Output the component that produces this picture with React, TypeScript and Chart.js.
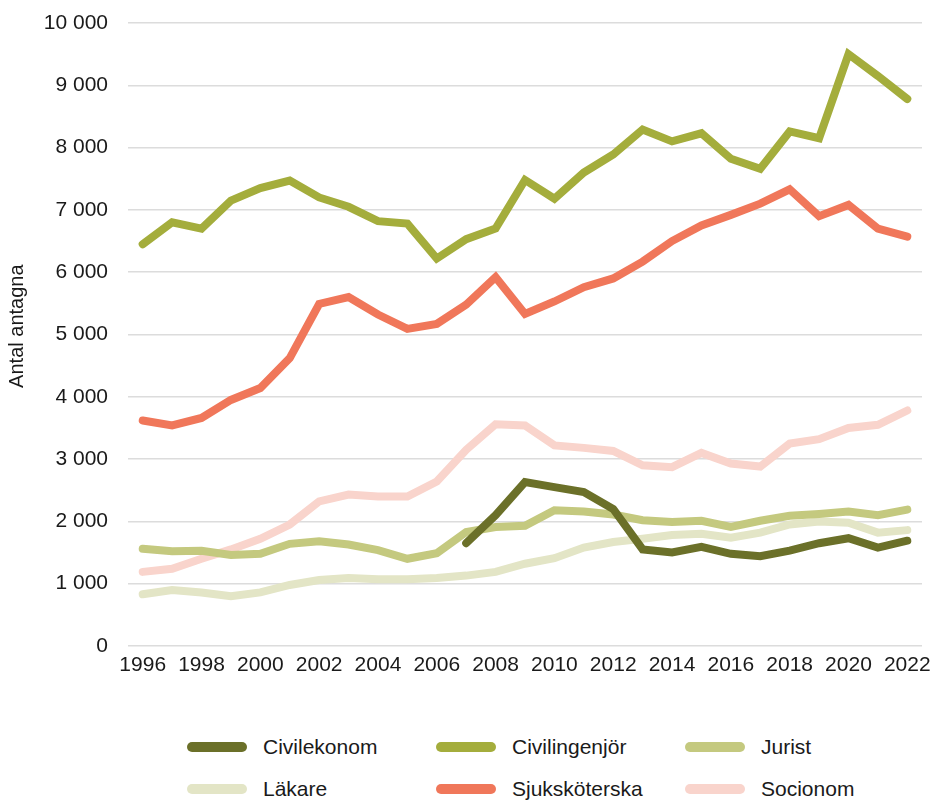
import React, { useEffect, useRef } from "react";
import { Chart, registerables } from "chart.js";

Chart.register(...registerables);

const years = [
  "1996", "1997", "1998", "1999", "2000", "2001", "2002", "2003", "2004", "2005",
  "2006", "2007", "2008", "2009", "2010", "2011", "2012", "2013", "2014", "2015",
  "2016", "2017", "2018", "2019", "2020", "2021", "2022",
];

const civilekonom = [
  null, null, null, null, null, null, null, null, null, null,
  null, 1650, 2100, 2630, 2550, 2470, 2200, 1550, 1500, 1590,
  1480, 1440, 1530, 1650, 1730, 1580, 1690,
];
const civilingenjor = [
  6450, 6800, 6700, 7150, 7350, 7470, 7200, 7050, 6820, 6780,
  6220, 6530, 6700, 7480, 7180, 7600, 7890, 8290, 8100, 8230,
  7820, 7660, 8260, 8150, 9500, 9150, 8780,
];
const jurist = [
  1560, 1520, 1530, 1460, 1480, 1640, 1680, 1630, 1540, 1400,
  1490, 1830, 1910, 1930, 2180, 2160, 2110, 2020, 1990, 2010,
  1910, 2010, 2090, 2120, 2160, 2100, 2190,
];
const lakare = [
  830, 900, 860, 800, 860, 980, 1060, 1090, 1070, 1070,
  1090, 1130, 1190, 1320, 1410, 1580, 1670, 1720, 1780, 1800,
  1740, 1820, 1950, 2000, 1980, 1820, 1860,
];
const sjukskoterska = [
  3620, 3540, 3660, 3950, 4140, 4620, 5490, 5600, 5320, 5090,
  5170, 5480, 5920, 5330, 5530, 5760, 5900, 6170, 6500, 6750,
  6920, 7100, 7330, 6900, 7080, 6700, 6570,
];
const socionom = [
  1190, 1240, 1400, 1550, 1720, 1950, 2320, 2430, 2400, 2400,
  2640, 3150, 3560, 3540, 3220, 3180, 3130, 2900, 2870, 3100,
  2930, 2880, 3250, 3320, 3500, 3550, 3780,
];

const seriesNames = ["Civilekonom", "Civilingenjör", "Jurist", "Läkare", "Sjuksköterska", "Socionom"];
const seriesColors = ["#6b7029", "#a4ad3c", "#c4c97f", "#e3e5c6", "#f0775a", "#f9d4cc"];
const seriesData = [civilekonom, civilingenjor, jurist, lakare, sjukskoterska, socionom];

const FONT = "'Liberation Sans', Arial, Helvetica, sans-serif";

function fmt(v: number): string {
  return String(v).replace(/\B(?=(\d{3})+(?!\d))/g, " ");
}

export default function App() {
  const ref = useRef<HTMLCanvasElement | null>(null);

  useEffect(() => {
    if (!ref.current) return;
    const chart = new Chart(ref.current, {
      type: "line",
      data: {
        labels: years,
        datasets: seriesNames.map((name, i) => ({
          label: name,
          data: seriesData[i],
          borderColor: seriesColors[i],
          backgroundColor: seriesColors[i],
          borderWidth: 8,
          borderCapStyle: "round" as const,
          borderJoinStyle: "miter" as const,
          pointRadius: 0,
          pointHoverRadius: 0,
          tension: 0,
          spanGaps: false,
        })),
      },
      options: {
        animation: false,
        responsive: false,
        maintainAspectRatio: false,
        layout: { padding: { top: 23, right: 10, left: 0, bottom: 0 } },
        plugins: {
          legend: { display: false },
          tooltip: { enabled: false },
        },
        scales: {
          x: {
            type: "category",
            offset: true,
            grid: { display: false, drawTicks: false },
            border: { display: false },
            afterFit: (s: any) => {
              s.height = 54;
              s.paddingLeft = 0;
              s.paddingRight = 0;
            },
            ticks: {
              autoSkip: false,
              maxRotation: 0,
              minRotation: 0,
              padding: 7,
              color: "#1a1a1a",
              font: { family: FONT, size: 21 },
              callback: (_v: any, idx: number) => (idx % 2 === 0 ? years[idx] : ""),
            },
          },
          y: {
            min: 0,
            max: 10000,
            afterFit: (s: any) => {
              s.width = 128;
              s.paddingTop = 0;
              s.paddingBottom = 0;
            },
            grid: { color: "#dcdcdc", lineWidth: 1.5, drawTicks: false },
            border: { display: false },
            ticks: {
              stepSize: 1000,
              padding: 20,
              color: "#1a1a1a",
              font: { family: FONT, size: 21 },
              callback: (v: any) => fmt(Number(v)),
            },
            title: {
              display: true,
              text: "   Antal antagna",
              color: "#1a1a1a",
              font: { family: FONT, size: 20 },
              padding: { top: 5, bottom: 0 },
            },
          },
        },
      },
    });
    return () => chart.destroy();
  }, []);

  const colX = [187, 436, 685];
  const rowY = [747, 789];

  return (
    <div style={{ position: "absolute", left: 0, top: 0, width: 932, height: 801, background: "#fff" }}>
      <canvas ref={ref} width={932} height={700} style={{ position: "absolute", left: 0, top: 0, width: 932, height: 700 }} />
      {seriesNames.map((name, i) => {
        const x = colX[i % 3];
        const y = rowY[Math.floor(i / 3)];
        return (
          <div key={name} style={{ position: "absolute", left: x, top: y - 13, height: 26, display: "flex", alignItems: "center" }}>
            <span style={{ display: "inline-block", width: 60, height: 10, borderRadius: 5, background: seriesColors[i] }} />
            <span style={{ marginLeft: 16, fontFamily: FONT, fontSize: 21, color: "#1a1a1a", whiteSpace: "nowrap" }}>{name}</span>
          </div>
        );
      })}
    </div>
  );
}
